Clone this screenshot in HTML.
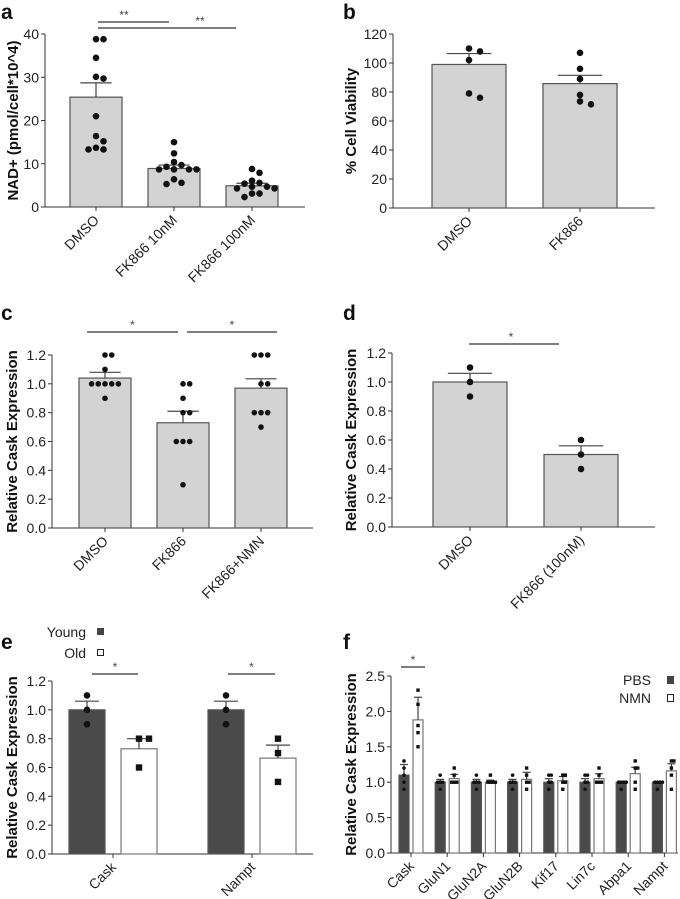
<!DOCTYPE html>
<html><head><meta charset="utf-8"><style>
html,body{margin:0;padding:0;background:#fff;}
svg{display:block;font-family:"Liberation Sans",Arial,sans-serif;}
</style></head><body>
<svg id="fig" width="680" height="899" viewBox="0 0 680 899"></svg>
<script>
// ---- data ----
const aCats=["DMSO","FK866 10nM","FK866 100nM"];
const aVals=[25.4,8.9,4.9];
const aErrs=[3.3,0.8,0.6];
const aPts=[[38.8,38.8,34.5,30.1,29.7,21,16.4,15.2,13.7,13.3,13.3],[15,12.4,10.4,9.7,9.3,8.7,8.7,8.7,8.7,6.4,5.6,5.3],[8.8,7.9,6.1,5.6,5.4,4.7,4.7,4.3,4.3,3.1,3.1,2.3]];
const aTicks=["0","10","20","30","40"];
const bCats=["DMSO","FK866"];
const bVals=[99,85.8];
const bErrs=[7.5,5.7];
const bPts=[[110,108,102,79,76],[107,96,89,78,73.5,71.5]];
const bTicks=["0","20","40","60","80","100","120"];
const cCats=["DMSO","FK866","FK866+NMN"];
const cVals=[1.04,0.73,0.97];
const cErrs=[0.04,0.08,0.065];
const cPts=[[1.2,1.2,1.1,1,1,1,1,1,0.9],[1,1,0.9,0.8,0.8,0.6,0.6,0.6,0.3],[1.2,1.2,1.2,1,1,0.8,0.8,0.8,0.7]];
const relTicks=["0.0","0.2","0.4","0.6","0.8","1.0","1.2"];
const dCats=["DMSO","FK866 (100nM)"];
const dVals=[1.0,0.5];
const dErrs=[0.06,0.06];
const dPts=[[1.1,1.0,0.9],[0.6,0.5,0.4]];
const eCats=["Cask","Nampt"];
const eYoung=[1.0,1.0];
const eYoungErr=[0.06,0.06];
const eOld=[0.73,0.665];
const eOldErr=[0.07,0.09];
const eYoungPts=[[1.1,1.0,0.9],[1.1,1.0,0.9]];
const eOldPts=[[0.8,0.8,0.6],[0.8,0.7,0.5]];
const fCats=["Cask","GluN1","GluN2A","GluN2B","Kif17","Lin7c","Abpa1","Nampt"];
const fPBS=[1.1,1.0,1.0,1.0,1.0,1.0,1.0,1.0];
const fPBSErr=[0.15,0.04,0.04,0.04,0.05,0.05,0.01,0.01];
const fNMN=[1.88,1.05,1.0,1.04,1.02,1.05,1.12,1.16];
const fNMNErr=[0.32,0.06,0.03,0.1,0.06,0.07,0.09,0.1];
const fPBSPts=[[1.3,1.2,1.1,1.0,0.9],[1.1,1,1,1,0.9],[1.1,1,1,1,0.9],[1.1,1,1,1,0.9],[1.1,1.1,1,1,0.9],[1.1,1.1,1,1,0.9],[1,1,1,1,0.9],[1,1,1,1,0.9]];
const fNMNPts=[[2.3,2.1,1.8,1.7,1.5],[1.2,1.1,1,1,1],[1.1,1,1,1,1],[1.2,1.1,1,1,0.9],[1.1,1.1,1,1,0.9],[1.2,1.1,1,1,1],[1.3,1.2,1.2,1,0.9],[1.3,1.3,1.2,1.1,0.9]];
const fTicks=["0.0","0.5","1.0","1.5","2.0","2.5"];

// ---- helpers ----
const NS="http://www.w3.org/2000/svg";
const svg=document.getElementById('fig');
function mk(tag,attrs,parent){const e=document.createElementNS(NS,tag);for(const k in attrs)e.setAttribute(k,attrs[k]);(parent||svg).appendChild(e);return e;}
function txt(s,attrs,parent){const e=mk('text',attrs,parent);e.textContent=s;return e;}

function axes(g,P,ticks){
  const y=v=>P.y0-(v/P.ymax)*(P.y0-P.yTop);
  const ax=mk('line',{x1:P.ax,y1:P.yTop,x2:P.ax,y2:P.y0,stroke:'#333','stroke-width':1},g);
  
  
  const xx=mk('line',{x1:P.ax,y1:P.y0,x2:P.xr,y2:P.y0,stroke:'#333','stroke-width':1},g);
  
  
  ticks.forEach((t,i)=>{
    const v=i*P.ymax/(ticks.length-1);
    mk('line',{x1:P.ax-4,y1:y(v),x2:P.ax,y2:y(v),stroke:'#333'},g);
    const tl=txt(t,{x:P.ax-6,y:y(v)+5,'text-anchor':'end','font-size':14,fill:'#222'},g);
    
    
  });
  const tt=txt(P.title,{x:0,y:0,'text-anchor':'middle','font-size':15,'font-weight':'bold',fill:'#111',transform:`translate(${P.tx},${(P.y0+P.yTop)/2}) rotate(-90)`},g);
  
  
  return y;
}
function xlabel(g,x,y0,s){
  mk('line',{x1:x,y1:y0,x2:x,y2:y0+4,stroke:'#333'},g);
  const t=txt(s,{x:0,y:0,'text-anchor':'end','font-size':14,fill:'#222',transform:`translate(${x+4},${y0+14}) rotate(-45)`},g);
  
  
}
function bar(g,x0,x1,top,y0,fill,name){
  const r=mk('rect',{x:x0,y:top,width:x1-x0,height:y0-top,fill:fill,stroke:fill=='#fff'?'#777':'#555','stroke-width':1.2},g);
  
  
}
function errbar(g,cx,top,etop,hw){
  mk('line',{x1:cx,y1:top,x2:cx,y2:etop,stroke:'#444','stroke-width':1.2},g);
  mk('line',{x1:cx-hw,y1:etop,x2:cx+hw,y2:etop,stroke:'#444','stroke-width':1.2},g);
}
function dots(g,cx,vals,y,r,sp,shape){
  const placed=[];
  vals.forEach(v=>{
    const py=y(v);
    let off=0;
    for(let k=0;k<30;k++){
      const cand=(k%2?1:-1)*Math.ceil(k/2)*sp;
      const clash=placed.some(p=>Math.abs(p[0]-cand)<sp*0.9&&Math.abs(p[1]-py)<r*1.8);
      if(!clash){off=cand;break;}
    }
    placed.push([off,py]);
  });
  placed.forEach(p=>{
    let el;
    if(shape==='sq') el=mk('rect',{x:cx+p[0]-r,y:p[1]-r,width:2*r,height:2*r,fill:'#111'},g);
    else el=mk('circle',{cx:cx+p[0],cy:p[1],r:r,fill:'#111'},g);
    
    
  });
}
function sig(g,x1,x2,y,star,sx){
  const l=mk('line',{x1:x1,y1:y,x2:x2,y2:y,stroke:'#333','stroke-width':1.2},g);
  
  
  const s=txt(star,{x:sx!==undefined?sx:(x1+x2)/2,y:y-3,'text-anchor':'middle','font-size':12,fill:'#444'},g);
  
  
}
function plabel(s,x,y){
  const t=txt(s,{x:x,y:y,'font-size':21,'font-weight':'bold',fill:'#111'});
  
  
}
function simple(name,P,cats,vals,errs,pts,ticks,cx0,sp,bw,r,dsp){
  const g=mk('g',{});
  
  
  const y=axes(g,P,ticks);
  cats.forEach((c,i)=>{
    const cx=cx0+i*sp;
    bar(g,cx-bw/2,cx+bw/2,y(vals[i]),P.y0,'#d3d3d3','bar-'+c.toLowerCase().replace(/[^a-z0-9]+/g,'-'));
    errbar(g,cx,y(vals[i]),y(vals[i]+errs[i]),bw*0.3);
    dots(g,cx,pts[i],y,r,dsp,'c');
    xlabel(g,cx,P.y0,c);
  });
  return {g,y};
}

// ---- panel a ----
plabel('a',1,19);
const A=simple('panel-a-nad-chart',{ax:45,y0:207,yTop:34,ymax:40,xr:305,title:'NAD+ (pmol/cell*10^4)',tx:18},aCats,aVals,aErrs,aPts,aTicks,96,78,52,3.3,7.5);
sig(A.g,98,169,22,'**',124);sig(A.g,98,236,28,'**',200);
// ---- panel b ----
plabel('b',343,19);
simple('panel-b-viability-chart',{ax:393,y0:208,yTop:34,ymax:120,xr:655,title:'% Cell Viability',tx:356},bCats,bVals,bErrs,bPts,bTicks,469,111,74,3.3,11);
// ---- panel c ----
plabel('c',1,320);
const C=simple('panel-c-cask-chart',{ax:52,y0:528,yTop:355,ymax:1.2,xr:313,title:'Relative Cask Expression',tx:17},cCats,cVals,cErrs,cPts,relTicks,105,78,52,2.8,6.7);
sig(C.g,87,178,332,'*');sig(C.g,187,277,332,'*');
// ---- panel d ----
plabel('d',343,320);
const D=simple('panel-d-cask-chart',{ax:392,y0:527,yTop:353,ymax:1.2,xr:655,title:'Relative Cask Expression',tx:356},dCats,dVals,dErrs,dPts,relTicks,470,111,74,3.3,8);
sig(D.g,469,559,344,'*',511);

// ---- panel e ----
plabel('e',1,649);
(function(){
  const P={ax:52,y0:854,yTop:681,ymax:1.2,xr:313,title:'Relative Cask Expression',tx:17};
  const g=mk('g',{});
  
  
  const y=axes(g,P,relTicks);
  eCats.forEach((c,i)=>{
    const gc=113+i*139;
    const yc=gc-26, oc=gc+26, bw=36;
    bar(g,yc-bw/2,yc+bw/2,y(eYoung[i]),P.y0,'#4a4a4a','bar-young-'+c.toLowerCase());
    errbar(g,yc,y(eYoung[i]),y(eYoung[i]+eYoungErr[i]),12);
    bar(g,oc-bw/2,oc+bw/2,y(eOld[i]),P.y0,'#fff','bar-old-'+c.toLowerCase());
    errbar(g,oc,y(eOld[i]),y(eOld[i]+eOldErr[i]),12);
    dots(g,yc,eYoungPts[i],y,3.3,8,'c');
    dots(g,oc,eOldPts[i],y,3.2,10,'sq');
    xlabel(g,gc,P.y0,c);
  });
  sig(g,92,138,674,'*');sig(g,228,275,674,'*');
  const l1=txt('Young',{x:86,y:637,'text-anchor':'end','font-size':14,fill:'#222'},g);
  
  
  mk('rect',{x:97,y:628,width:7,height:7,fill:'#444'},g);
  const l2=txt('Old',{x:86,y:658,'text-anchor':'end','font-size':14,fill:'#222'},g);
  
  
  mk('rect',{x:97.5,y:649.5,width:6,height:6,fill:'#fff',stroke:'#222'},g);
})();

// ---- panel f ----
plabel('f',343,649);
(function(){
  const P={ax:391,y0:853,yTop:676,ymax:2.5,xr:678,title:'Relative Cask Expression',tx:356};
  const g=mk('g',{});
  
  
  const y=axes(g,P,fTicks);
  fCats.forEach((c,i)=>{
    const gc=411+i*36.2;
    const pc=gc-7, nc=gc+7, bw=10;
    bar(g,pc-bw/2,pc+bw/2,y(fPBS[i]),P.y0,'#4a4a4a','bar-pbs-'+c.toLowerCase());
    errbar(g,pc,y(fPBS[i]),y(fPBS[i]+fPBSErr[i]),4);
    bar(g,nc-bw/2,nc+bw/2,y(fNMN[i]),P.y0,'#fff','bar-nmn-'+c.toLowerCase());
    errbar(g,nc,y(fNMN[i]),y(fNMN[i]+fNMNErr[i]),4);
    dots(g,pc,fPBSPts[i],y,1.8,2.5,'c');
    dots(g,nc,fNMNPts[i],y,1.7,2.5,'sq');
    xlabel(g,gc,P.y0,c);
  });
  sig(g,401,425,667,'*');
  const l1=txt('PBS',{x:651,y:685,'text-anchor':'end','font-size':14,fill:'#222'},g);
  
  
  mk('rect',{x:667,y:676,width:7,height:8,fill:'#444'},g);
  const l2=txt('NMN',{x:651,y:703,'text-anchor':'end','font-size':14,fill:'#222'},g);
  
  
  mk('rect',{x:667.5,y:694.5,width:6,height:7,fill:'#fff',stroke:'#222'},g);
})();
</script>
</body></html>
